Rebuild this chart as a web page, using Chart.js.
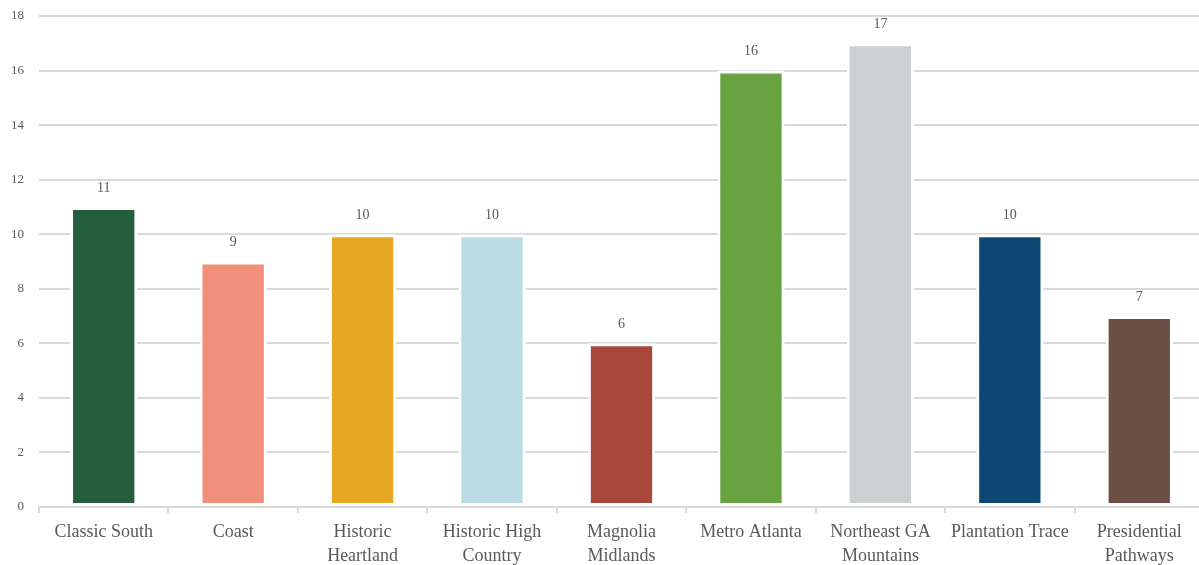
<!DOCTYPE html>
<html>
<head>
<meta charset="utf-8">
<script src="https://cdn.jsdelivr.net/npm/chart.js@4/dist/chart.umd.min.js"></script>
<style>
  html, body { margin: 0; padding: 0; background: #ffffff; overflow: hidden; }
  #wrap { width: 1199px; height: 565px; overflow: hidden; }
</style>
</head>
<body>
<div id="wrap"><canvas id="c" width="1204" height="565"></canvas></div>
<script>
const categories = [
  "Classic South",
  "Coast",
  ["Historic", "Heartland"],
  ["Historic High", "Country"],
  ["Magnolia", "Midlands"],
  "Metro Atlanta",
  ["Northeast GA", "Mountains"],
  "Plantation Trace",
  ["Presidential", "Pathways"]
];
const values = [11, 9, 10, 10, 6, 16, 17, 10, 7];
const barColors = ["#245E3C", "#F0907B", "#E6A823", "#BCDCE5", "#A8483D", "#69A240", "#CDD0D1", "#0C4873", "#6B4F46"];
const yTicks = [0, 2, 4, 6, 8, 10, 12, 14, 16, 18];

const FONT = "'Liberation Serif', 'DejaVu Serif', serif";
const TEXT = "#595959";
const GRID = "#d9d9d9";

const valueLabels = {
  id: "valueLabels",
  afterDatasetsDraw(chart) {
    const ctx = chart.ctx;
    const meta = chart.getDatasetMeta(0);
    ctx.save();
    ctx.font = "14px " + FONT;
    ctx.fillStyle = TEXT;
    ctx.textAlign = "center";
    ctx.textBaseline = "middle";
    meta.data.forEach((bar, i) => {
      ctx.fillText(String(values[i]), bar.x, bar.y - 19);
    });
    ctx.restore();
  }
};

new Chart(document.getElementById("c"), {
  type: "bar",
  data: {
    labels: categories,
    datasets: [{
      data: values,
      backgroundColor: barColors,
      borderColor: "#ffffff",
      borderWidth: 3,
      borderSkipped: false,
      categoryPercentage: 1.0,
      barPercentage: 0.52
    }]
  },
  options: {
    responsive: false,
    animation: false,
    layout: { padding: { top: 16, left: 0, right: 0, bottom: 0 } },
    plugins: {
      legend: { display: false },
      tooltip: { enabled: false }
    },
    scales: {
      x: {
        afterFit(axis) {
          axis.height = 58;
          axis.paddingLeft = 0;
          axis.paddingRight = 0;
        },
        grid: {
          offset: true,
          drawOnChartArea: false,
          drawTicks: true,
          tickLength: 6,
          color: GRID,
          lineWidth: 2
        },
        border: { display: true, color: GRID, width: 2 },
        ticks: {
          color: TEXT,
          font: { family: FONT, size: 18, lineHeight: 1.3 },
          padding: 8,
          maxRotation: 0,
          autoSkip: false
        }
      },
      y: {
        min: 0,
        max: 18,
        afterBuildTicks(axis) { axis.ticks = yTicks.map(v => ({ value: v })); },
        afterFit(axis) {
          axis.width = 39;
          axis.paddingTop = 0;
          axis.paddingBottom = 0;
        },
        grid: { color: GRID, lineWidth: 2, drawTicks: false },
        border: { display: false },
        ticks: {
          color: TEXT,
          font: { family: FONT, size: 13 },
          padding: 15
        }
      }
    }
  },
  plugins: [valueLabels]
});
</script>
</body>
</html>
